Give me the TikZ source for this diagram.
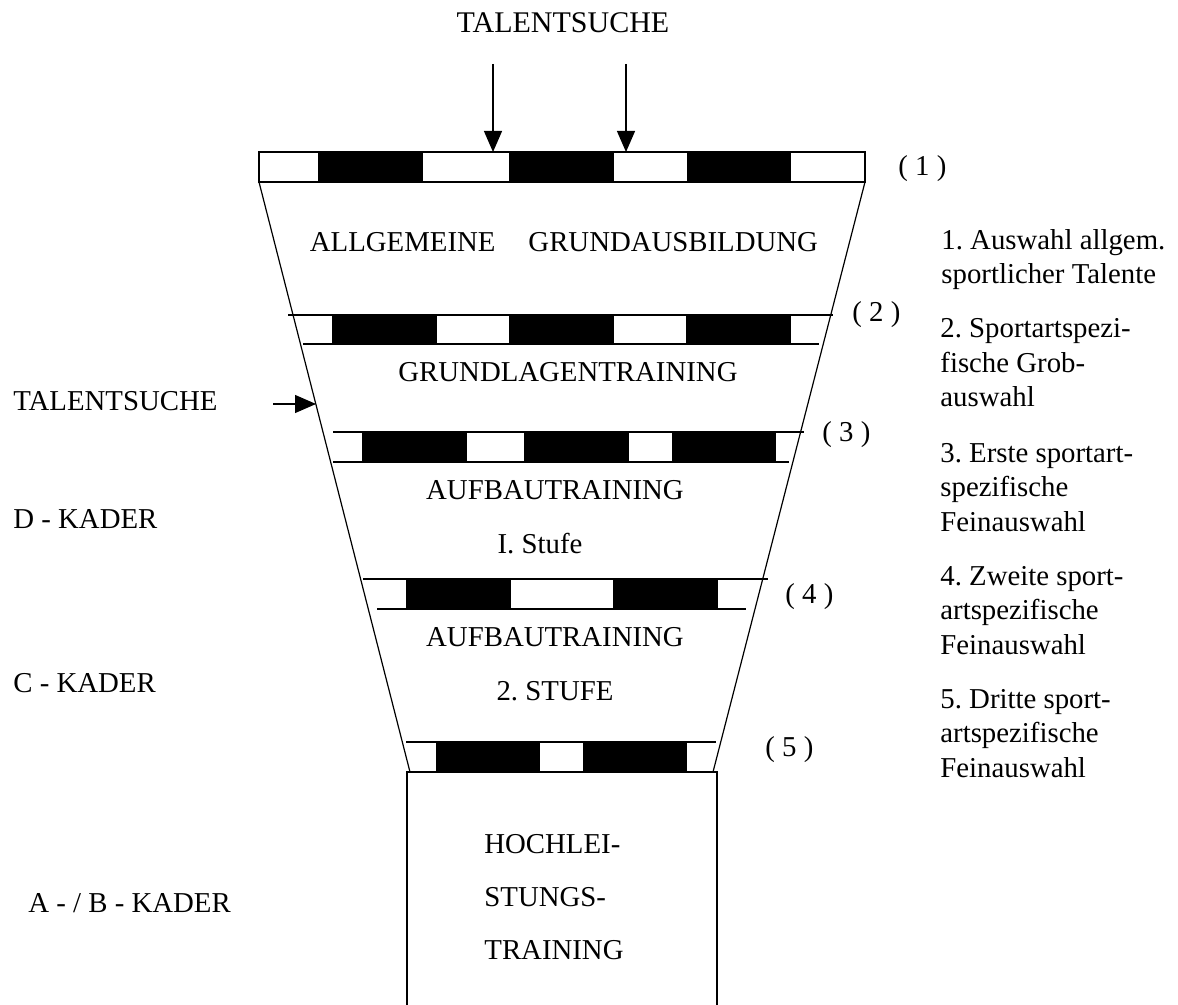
\documentclass[tikz,border=0pt]{standalone}
\usepackage{fontspec}
\setmainfont{Liberation Serif}
\usetikzlibrary{arrows.meta}
\frenchspacing
\begin{document}
\begin{tikzpicture}[x=0.5pt,y=-0.5pt,
  every node/.style={inner sep=0pt, font=\fontsize{14.4}{17.25}\selectfont},
  rim/.style={line width=0.6pt},
  feed/.style={line width=0.6pt,-{Triangle[length=10.5pt,width=9pt]}},
  lbl/.style={anchor=base},
  side/.style={anchor=base west},
  note/.style={anchor=base west, align=left},
  tall/.style={anchor=base west, align=left, font=\fontsize{14.4}{26.5}\selectfont},
]
\useasboundingbox (0,0) rectangle (1178,1005);

% funnel outline
\coordinate (fl1) at (259,182);
\coordinate (fl2) at (410,772);
\coordinate (fr1) at (865,182);
\coordinate (fr2) at (713,772);
\draw[rim] (fl1) -- (fl2);
\draw[rim] (fr1) -- (fr2);

% bottom box (open at the bottom)
\draw[rim] (407,1005) -- (407,772) -- (717,772) -- (717,1005);

% selection bar 1 (closed frame)
\draw[rim] (259,152) rectangle (865,182);
\foreach \a/\b in {318/423, 509/614, 687/791}
  \fill (\a,152) rectangle (\b,182);

% selection bar 2
\draw[rim] (288,315) -- (833,315);
\draw[rim] (303,344) -- (819,344);
\foreach \a/\b in {332/437, 509/614, 686/791}
  \fill (\a,315) rectangle (\b,344);

% selection bar 3
\draw[rim] (333,432) -- (804,432);
\draw[rim] (333,462) -- (789,462);
\foreach \a/\b in {362/467, 524/629, 672/776}
  \fill (\a,432) rectangle (\b,462);

% selection bar 4
\draw[rim] (363,579) -- (768,579);
\draw[rim] (377,609) -- (746,609);
\foreach \a/\b in {406/511, 613/718}
  \fill (\a,579) rectangle (\b,609);

% selection bar 5
\draw[rim] (406,742) -- (716,742);
\foreach \a/\b in {436/540, 583/687}
  \fill (\a,742) rectangle (\b,772);

% entry arrows
\node[lbl, font=\fontsize{15}{18}\selectfont] (ts) at (563,33) {TALENTSUCHE};
\coordinate (s1) at (493,64);
\coordinate (t1) at (493,152);
\coordinate (s2) at (626,64);
\coordinate (t2) at (626,152);
\draw[feed] (s1) -- (t1);
\draw[feed] (s2) -- (t2);

\node[side] (tsl) at (13,411) {TALENTSUCHE};
\coordinate (s3) at (273,404);
\coordinate (t3) at (316,404);
\draw[feed] (s3) -- (t3);

% stage texts inside the funnel
\node[lbl] (ag) at (564,252) {ALLGEMEINE\hspace{16.5pt}GRUNDAUSBILDUNG};
\node[lbl] (gl) at (568,382) {GRUNDLAGENTRAINING};
\node[lbl] (ab1) at (555,500) {AUFBAUTRAINING};
\node[lbl] (st1) at (540,553) {I. Stufe};
\node[lbl] (ab2) at (555,646) {AUFBAUTRAINING};
\node[lbl] (st2) at (555,700) {2. STUFE};
% base anchor of a multi-line node sits on its last line
\node[tall] (hl) at (484,959) {HOCHLEI-\\STUNGS-\\TRAINING};

% squad levels
\node[side] (kd) at (13,529) {D - KADER};
\node[side] (kc) at (13,692) {C - KADER};
\node[side] (kab) at (28,912) {A - / B - KADER};

% selection numbers
\node[side] (n1) at (898,176) {( 1 )};
\node[side] (n2) at (852,322) {( 2 )};
\node[side] (n3) at (822,442) {( 3 )};
\node[side] (n4) at (785,603) {( 4 )};
\node[side] (n5) at (765,756) {( 5 )};

% legend
\node[note] (l1) at (941,284) {1. Auswahl allgem.\\sportlicher Talente};
\node[note] (l2) at (940,407) {2. Sportartspezi-\\fische Grob-\\auswahl};
\node[note] (l3) at (940,531) {3. Erste sportart-\\spezifische\\Feinauswahl};
\node[note] (l4) at (940,654) {4. Zweite sport-\\artspezifische\\Feinauswahl};
\node[note] (l5) at (940,777) {5. Dritte sport-\\artspezifische\\Feinauswahl};
\end{tikzpicture}
\end{document}
